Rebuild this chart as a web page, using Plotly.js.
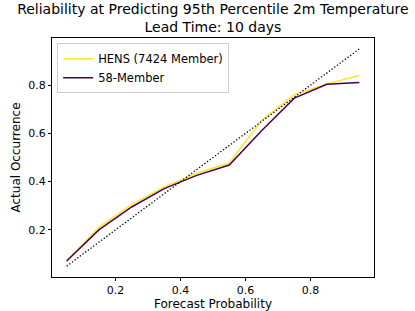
<!DOCTYPE html>
<html>
<head>
<meta charset="utf-8">
<script src="https://cdn.plot.ly/plotly-3.0.1.min.js"></script>
<style>html,body{margin:0;padding:0;background:#fff;}#chart{width:415px;height:311px;}</style>
</head>
<body>
<div id="chart"></div>
<script>
const forecastProb = [0.05, 0.15, 0.25, 0.35, 0.45, 0.55, 0.65, 0.75, 0.85, 0.95];
const hensOccurrence = [0.071, 0.212, 0.306, 0.378, 0.435, 0.477, 0.654, 0.760, 0.805, 0.840];
const member58Occurrence = [0.071, 0.201, 0.295, 0.371, 0.426, 0.469, 0.612, 0.746, 0.803, 0.811];
const perfectX = [0.05, 0.95];
const perfectY = [0.05, 0.95];
const xTickVals = [0.2, 0.4, 0.6, 0.8];
const yTickVals = [0.2, 0.4, 0.6, 0.8];
const seriesNames = ['HENS (7424 Member)', '58-Member'];

const font = 'DejaVu Sans, sans-serif';
const traces = [
  {x: forecastProb, y: hensOccurrence, mode: 'lines', name: seriesNames[0],
   line: {color: '#fde725', width: 1.5}},
  {x: forecastProb, y: member58Occurrence, mode: 'lines', name: seriesNames[1],
   line: {color: '#440154', width: 1.5}},
  {x: perfectX, y: perfectY, mode: 'lines', showlegend: false,
   line: {color: '#000000', width: 1.3, dash: '1.3px,2px'}}
];
const axisCommon = {
  showgrid: false, zeroline: false, showline: true, mirror: true,
  linecolor: '#000', linewidth: 1, ticks: 'outside', ticklen: 3, tickwidth: 1,
  tickcolor: '#000', tickfont: {family: font, size: 11, color: '#000'}
};
const layout = {
  width: 415, height: 311,
  margin: {l: 52, r: 41, t: 38, b: 34},
  paper_bgcolor: '#fff', plot_bgcolor: '#fff',
  font: {family: font, color: '#000'},
  title: {text: 'Reliability at Predicting 95th Percentile 2m Temperature<br>Lead Time: 10 days',
          font: {family: font, size: 14, color: '#000'}, x: 0.513, xanchor: 'center',
          yref: 'container', y: 0.955, yanchor: 'top'},
  xaxis: Object.assign({}, axisCommon, {range: [0.005, 0.995], tickvals: xTickVals, ticktext: xTickVals.map(v => v.toFixed(1)),
    title: {text: 'Forecast Probability', font: {family: font, size: 12, color: '#000'}, standoff: 2}}),
  yaxis: Object.assign({}, axisCommon, {range: [0.005, 0.995], tickvals: yTickVals, ticktext: yTickVals.map(v => v.toFixed(1)),
    title: {text: 'Actual Occurrence', font: {family: font, size: 12, color: '#000'}, standoff: 5}}),
  legend: {x: 0.016, y: 0.978, xanchor: 'left', yanchor: 'top', bgcolor: 'rgba(255,255,255,0.8)',
           bordercolor: '#cccccc', borderwidth: 1, font: {family: font, size: 11.5, color: '#000'},
           tracegroupgap: 0, itemwidth: 30}
};
Plotly.newPlot('chart', traces, layout, {displayModeBar: false, staticPlot: true});
</script>
</body>
</html>
